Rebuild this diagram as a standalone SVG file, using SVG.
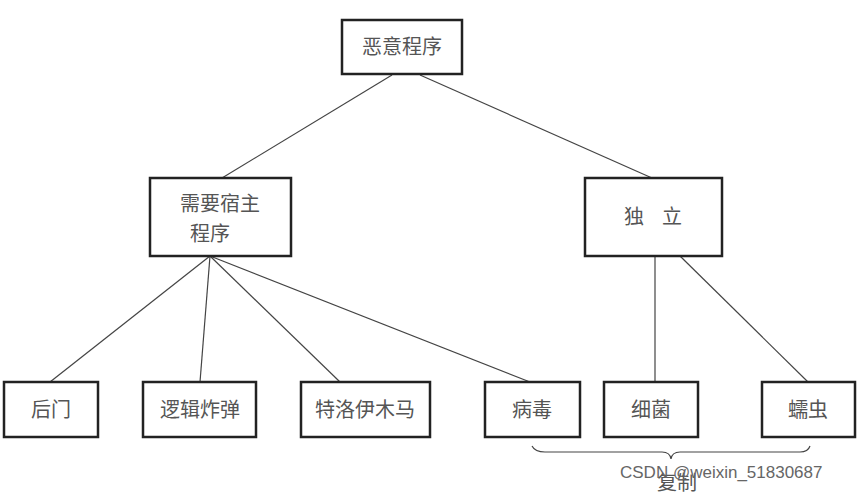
<svg xmlns="http://www.w3.org/2000/svg" width="862" height="495" viewBox="0 0 862 495">
<style>
.b{fill:#fff;stroke:#222;stroke-width:2.5}
.t{font-family:"Noto Sans CJK SC","Noto Sans",sans-serif;font-size:20px;fill:#555;text-anchor:middle}
.c line,.c path{stroke:#444;stroke-width:1.2;fill:none}
</style>
<rect width="862" height="495" fill="#fff"/>
<g class="c" id="connectors">
<line x1="392" y1="75" x2="222" y2="178"/>
<line x1="420" y1="75" x2="652" y2="178"/>
<line x1="210" y1="256" x2="50" y2="382"/>
<line x1="210" y1="256" x2="200" y2="382"/>
<line x1="210" y1="256" x2="340" y2="382"/>
<line x1="210" y1="256" x2="530" y2="382"/>
<line x1="655" y1="256" x2="655" y2="382"/>
<line x1="680" y1="256" x2="808" y2="382"/>
<path d="M532 446 Q535 452 545 452 L662 452 Q670 452 671 459 Q672 452 680 452 L800 452 Q808 452 810 446"/>
</g>
<g id="n0"><rect class="b" x="342" y="20" width="120" height="54"/><text class="t" x="402" y="54">恶意程序</text></g>
<g id="n1"><rect class="b" x="150" y="178" width="141" height="78"/><text class="t" x="220" y="211">需要宿主</text><text class="t" x="210" y="241">程序</text></g>
<g id="n2"><rect class="b" x="585" y="178" width="137" height="78"/><text class="t" x="653" y="224" xml:space="preserve">独    立</text></g>
<g id="n3"><rect class="b" x="4" y="382" width="94" height="55"/><text class="t" x="51" y="417">后门</text></g>
<g id="n4"><rect class="b" x="143" y="382" width="113" height="55"/><text class="t" x="200" y="417">逻辑炸弹</text></g>
<g id="n5"><rect class="b" x="301" y="382" width="129" height="55"/><text class="t" x="365" y="417">特洛伊木马</text></g>
<g id="n6"><rect class="b" x="485" y="382" width="95" height="55"/><text class="t" x="532" y="417">病毒</text></g>
<g id="n7"><rect class="b" x="604" y="382" width="94" height="55"/><text class="t" x="651" y="417">细菌</text></g>
<g id="n8"><rect class="b" x="762" y="382" width="93" height="55"/><text class="t" x="808" y="417">蠕虫</text></g>
<text class="t" x="677" y="490">复制</text>
<text x="620" y="478" style="font-family:'Liberation Sans',sans-serif;font-size:17px;fill:#666">CSDN @weixin_51830687</text>
</svg>
